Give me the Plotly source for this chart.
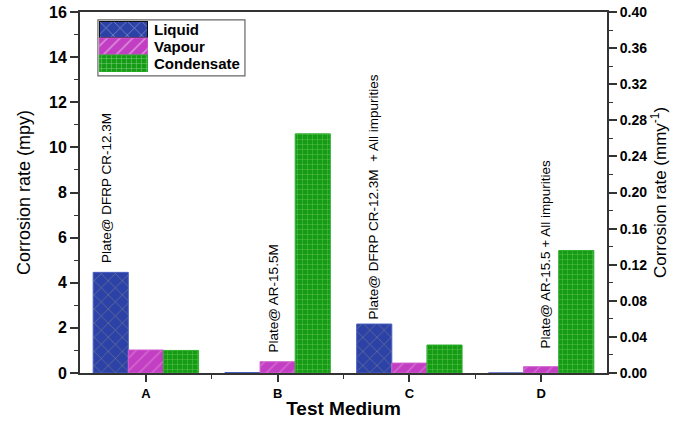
import plotly.graph_objects as go

categories = ["A", "B", "C", "D"]
series_names = ["Liquid", "Vapour", "Condensate"]
liquid = [4.46, 0.02, 2.17, 0.0]
vapour = [1.02, 0.50, 0.44, 0.28]
condensate = [1.0, 10.6, 1.24, 5.43]

label_texts = [
    "Plate@ DFRP CR-12.3M",
    "Plate@ AR-15.5M",
    "Plate@ DFRP CR-12.3M  + All impurities",
    "Plate@ AR-15.5 + All impurities",
]
label_offsets = [-0.30, -0.03, -0.27, 0.03]
label_y = [4.8, 0.8, 2.3, 1.0]

left_ticks = [0, 2, 4, 6, 8, 10, 12, 14, 16]
right_ticks = [0.00, 0.04, 0.08, 0.12, 0.16, 0.20, 0.24, 0.28, 0.32, 0.36, 0.40]

FONT = "Arial, Liberation Sans, sans-serif"

bg_colors = ["#2c42a6", "#c23ec2", "#159c15"]
edge_colors = ["#4a5ec0", "#d060d0", "#30b030"]
fg_colors = ["#b8b07a", "#eaa0e0", "#b0e890"]
shapes_p = ["x", "/", "+"]
sizes_p = [10, 9, 5]
solid_p = [0.12, 0.15, 0.18]

fig = go.Figure()
for k, (name, vals) in enumerate(zip(series_names, [liquid, vapour, condensate])):
    fig.add_trace(go.Bar(
        name=name, x=categories, y=vals, showlegend=False,
        marker=dict(color=bg_colors[k], line=dict(color=edge_colors[k], width=1),
                    pattern=dict(shape=shapes_p[k], fgcolor=fg_colors[k],
                                 size=sizes_p[k], solidity=solid_p[k])),
    ))

# right axis carrier (invisible)
fig.add_trace(go.Scatter(
    x=[categories[0]], y=[0], yaxis="y2", mode="markers",
    marker=dict(opacity=0), showlegend=False, hoverinfo="skip",
))

# custom legend swatches on a hidden mini-axis
fig.add_trace(go.Bar(
    x=[1, 1, 1], y=series_names, orientation="h", width=1,
    xaxis="x3", yaxis="y3", showlegend=False, hoverinfo="skip",
    marker=dict(color=bg_colors, line=dict(color=["#111", edge_colors[1], edge_colors[2]],
                                           width=[2, 1, 1]),
                pattern=dict(shape=shapes_p, fgcolor=fg_colors, size=sizes_p,
                             solidity=solid_p)),
))

for i, (t, off, yy) in enumerate(zip(label_texts, label_offsets, label_y)):
    fig.add_annotation(
        x=i + off, y=yy, xref="x", yref="y", text=t, textangle=-90,
        showarrow=False, xanchor="center", yanchor="bottom",
        font=dict(family=FONT, size=13.5, color="black"),
    )

# legend texts
leg_dom = [0.834, 0.975]
row_h = (leg_dom[1] - leg_dom[0]) / len(series_names)
for k, name in enumerate(series_names):
    fig.add_annotation(
        x=0.137, y=leg_dom[1] - (k + 0.5) * row_h, xref="paper", yref="paper",
        text="<b>%s</b>" % name,
        showarrow=False, xanchor="left", yanchor="middle",
        font=dict(family=FONT, size=15, color="black"),
    )

# legend frame
fig.add_shape(type="rect", xref="paper", yref="paper",
              x0=0.034, x1=0.313, y0=0.823, y1=0.978,
              line=dict(color="#666", width=1.2), fillcolor="rgba(0,0,0,0)")

fig.update_layout(
    width=682, height=426,
    margin=dict(l=80, r=75, t=12, b=53),
    paper_bgcolor="white", plot_bgcolor="white",
    barmode="group", bargap=0.2, bargroupgap=0,
    font=dict(family=FONT, color="black"),
    showlegend=False,
    xaxis=dict(
        range=[-0.5, 3.5], showline=True, linecolor="#333", linewidth=2,
        mirror=True, ticks="outside", ticklen=7, tickwidth=2, tickcolor="#333",
        tickfont=dict(size=13, weight="bold"), automargin=False,
        minor=dict(ticks="outside", ticklen=4, tickwidth=1, tickcolor="#333",
                   tickvals=[0.5, 1.5, 2.5]),
        title=dict(text="Test Medium", font=dict(size=19, weight="bold"), standoff=2),
        showgrid=False, zeroline=False,
    ),
    yaxis=dict(
        range=[0, 16], tickvals=left_ticks, showline=True, linecolor="#333",
        linewidth=2, mirror=True, ticks="outside", ticklen=8, tickwidth=2,
        tickcolor="#333", tickfont=dict(size=16, weight="bold"), automargin=False,
        minor=dict(ticks="outside", ticklen=4, tickwidth=1, tickcolor="#333", dtick=1),
        title=dict(text="Corrosion rate (mpy)", font=dict(size=18), standoff=14),
        showgrid=False, zeroline=False,
    ),
    yaxis2=dict(
        overlaying="y", side="right", range=[0, 0.4], tickvals=right_ticks,
        tickformat=".2f", showline=True, linecolor="#333", linewidth=2,
        ticks="outside", ticklen=8, tickwidth=2, tickcolor="#333", automargin=False,
        tickfont=dict(size=14, weight="bold"),
        minor=dict(ticks="outside", ticklen=4, tickwidth=1, tickcolor="#333", dtick=0.02),
        title=dict(text="Corrosion rate (mmy<sup>-1</sup>)", font=dict(size=17), standoff=8),
        showgrid=False, zeroline=False,
    ),
    xaxis3=dict(domain=[0.036, 0.129], anchor="y3", range=[0, 1], visible=False,
                fixedrange=True),
    yaxis3=dict(domain=leg_dom, anchor="x3", visible=False, fixedrange=True,
                categoryorder="array", categoryarray=series_names[::-1],
                range=[-0.5, 2.5]),
)

fig.write_html("out.html")
